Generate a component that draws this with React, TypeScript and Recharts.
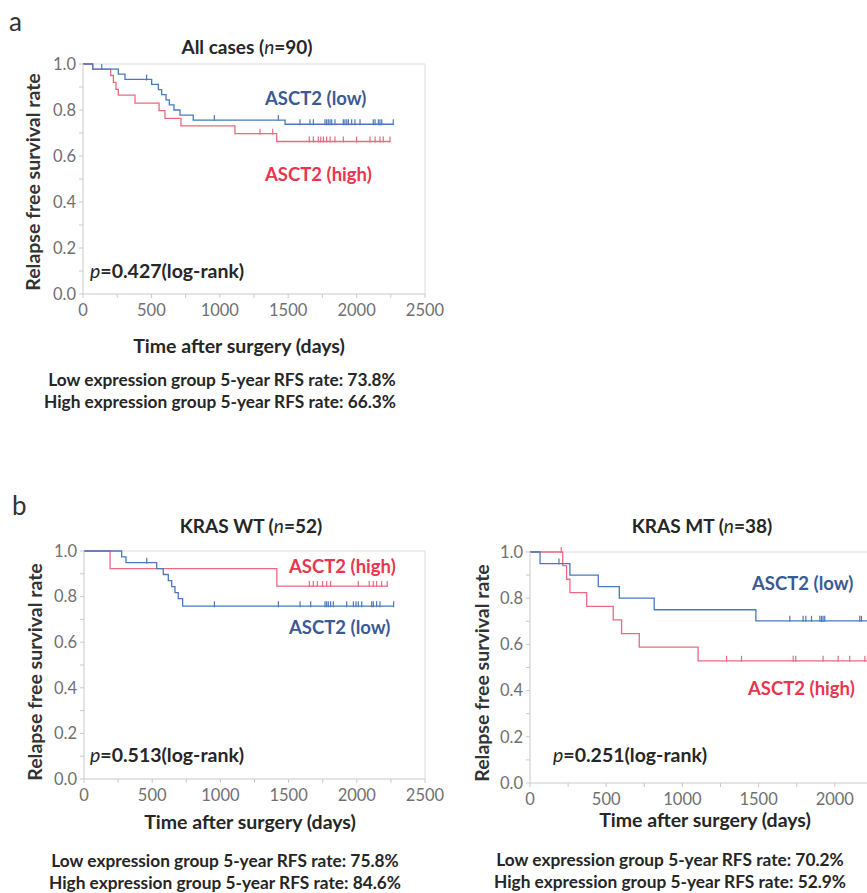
import React from "react";
import { ComposedChart, Line, Scatter, XAxis, YAxis, ReferenceLine } from "recharts";

// [day, survival] steps of each Kaplan-Meier curve, and censored days
const allLowSteps: [number, number][] = [
  [0, 1], [71, 0.978], [258, 0.956], [307, 0.933], [502, 0.911], [551, 0.889],
  [575, 0.867], [607, 0.844], [631, 0.822], [665, 0.8], [709, 0.778], [806, 0.756], [1477, 0.738],
];
const allLowCensored = [
  137, 465, 960, 1428, 1586, 1659, 1684, 1769, 1781, 1793, 1806, 1818, 1842, 1903, 1915,
  1928, 1940, 1964, 1988, 2025, 2122, 2135, 2159, 2171, 2184, 2268,
];
const allHighSteps: [number, number][] = [
  [0, 1], [71, 0.978], [202, 0.95], [222, 0.92], [241, 0.89], [258, 0.865], [380, 0.83],
  [556, 0.797], [599, 0.764], [716, 0.731], [1111, 0.697], [1416, 0.663],
];
const allHighCensored = [
  1294, 1387, 1654, 1684, 1720, 1738, 1757, 1781, 1806, 1842, 1903, 2000, 2098, 2135, 2171,
  2195, 2244,
];

const wtLowSteps: [number, number][] = [
  [0, 1], [276, 0.974], [308, 0.949], [533, 0.923], [581, 0.897], [618, 0.87], [643, 0.844],
  [667, 0.817], [691, 0.791], [723, 0.758],
];
const wtLowCensored = [
  460, 956, 1425, 1584, 1662, 1767, 1779, 1791, 1808, 1828, 1926, 1975, 1994, 2011, 2036,
  2109, 2121, 2145, 2170, 2270,
];
const wtHighSteps: [number, number][] = [[0, 1], [191, 0.923], [1414, 0.846]];
const wtHighCensored = [1652, 1681, 1711, 1749, 1779, 1808, 2011, 2091, 2121, 2145, 2182, 2223];

const mtLowSteps: [number, number][] = [
  [0, 1], [66, 0.95], [262, 0.9], [448, 0.85], [586, 0.8], [815, 0.75], [1482, 0.702],
];
const mtLowCensored = [190, 1705, 1792, 1810, 1847, 1902, 1913, 1923, 1934, 2164, 2175, 2270];
const mtHighSteps: [number, number][] = [
  [0, 1], [215, 0.941], [240, 0.882], [262, 0.824], [372, 0.765], [546, 0.706], [601, 0.647],
  [717, 0.588], [1103, 0.529],
];
const mtHighCensored = [205, 1290, 1388, 1727, 1744, 1923, 2022, 2098, 2197, 2270];

const xTicks = [0, 250, 500, 750, 1000, 1250, 1500, 1750, 2000, 2250, 2500];
const yTicks = [0, 0.1, 0.2, 0.3, 0.4, 0.5, 0.6, 0.7, 0.8, 0.9, 1.0];

const BLUE = "#4a78bd";
const RED = "#ea6a80";
const BLUE_TEXT = "#3a5a94";
const RED_TEXT = "#e8364f";
const AXIS = "#c9c9c9";
const FONT = "Lato, 'Open Sans', sans-serif";

const survivalAt = (steps: [number, number][], day: number) => {
  let s = steps[0][1];
  for (const [d, v] of steps) if (d <= day) s = v;
  return s;
};

const toLine = (steps: [number, number][], cens: number[]) => {
  const end = Math.max(steps[steps.length - 1][0], ...cens);
  return [...steps.map(([day, s]) => ({ day, s })), { day: end, s: steps[steps.length - 1][1] }];
};

const toTicks = (steps: [number, number][], cens: number[]) =>
  cens.map((day) => ({ day, s: survivalAt(steps, day) }));

const censorShape = (color: string) => (props: any) => (
  <line x1={props.cx} x2={props.cx} y1={props.cy - 5} y2={props.cy + 1} stroke={color} strokeWidth={1.2} />
);

type PanelProps = {
  left: number;
  top: number;
  width: number;
  height: number;
  margin: { top: number; right: number; bottom: number; left: number };
  low: [number, number][];
  lowCens: number[];
  high: [number, number][];
  highCens: number[];
  maxLabel?: number;
};

const KMPanel = ({ left, top, width, height, margin, low, lowCens, high, highCens, maxLabel = 2500 }: PanelProps) => (
  <div style={{ position: "absolute", left, top }}>
    <ComposedChart width={width} height={height} margin={margin}>
      <XAxis
        dataKey="day"
        type="number"
        domain={[0, 2500]}
        ticks={xTicks}
        tickFormatter={(v: number) => (v % 500 === 0 && v <= maxLabel ? String(v) : "")}
        stroke={AXIS}
        tickSize={4}
        tickMargin={6}
        height={30}
        tick={{ fill: "#707070", fontSize: 16.5, fontFamily: FONT }}
        allowDataOverflow
      />
      <YAxis
        dataKey="s"
        type="number"
        domain={[0, 1]}
        ticks={yTicks}
        tickFormatter={(v: number) => (Math.round(v * 10) % 2 === 0 ? v.toFixed(1) : "")}
        stroke={AXIS}
        tickSize={4}
        tickMargin={3}
        width={40}
        tick={{ fill: "#707070", fontSize: 16.5, fontFamily: FONT }}
      />
      <ReferenceLine y={1} stroke="#dcdcdc" />
      <ReferenceLine x={2500} stroke="#dcdcdc" />
      <Line data={toLine(high, highCens)} dataKey="s" type="stepAfter" stroke={RED} strokeWidth={1.3} dot={false} isAnimationActive={false} />
      <Scatter data={toTicks(high, highCens)} dataKey="s" shape={censorShape(RED)} isAnimationActive={false} />
      <Line data={toLine(low, lowCens)} dataKey="s" type="stepAfter" stroke={BLUE} strokeWidth={1.3} dot={false} isAnimationActive={false} />
      <Scatter data={toTicks(low, lowCens)} dataKey="s" shape={censorShape(BLUE)} isAnimationActive={false} />
    </ComposedChart>
  </div>
);

const Txt = ({ x, y, anchor = "start", size = 19.5, color = "#262626", weight = 700, rotate = false, children }: any) => {
  const tx = anchor === "middle" ? "-50%" : anchor === "end" ? "-100%" : "0";
  return (
    <div
      style={{
        position: "absolute",
        left: x,
        top: y,
        transform: rotate ? "translate(-50%, -50%) rotate(-90deg)" : `translate(${tx}, -50%)`,
        fontFamily: FONT,
        fontSize: size,
        fontWeight: weight,
        color,
        whiteSpace: "nowrap",
        lineHeight: 1,
      }}
    >
      {children}
    </div>
  );
};

const PValue = ({ x, y, value }: { x: number; y: number; value: string }) => (
  <Txt x={x} y={y}>
    <i style={{ fontWeight: 400 }}>p</i>={value}(log-rank)
  </Txt>
);

export default function App() {
  return (
    <div style={{ position: "fixed", left: 0, top: 0, width: 867, height: 893, overflow: "hidden", background: "#fff" }}>
      <KMPanel left={0} top={0} width={460} height={330} margin={{ top: 64, right: 35, bottom: 6, left: 43 }}
        low={allLowSteps} lowCens={allLowCensored} high={allHighSteps} highCens={allHighCensored} />
      <KMPanel left={0} top={487} width={460} height={330} margin={{ top: 64, right: 35, bottom: 8, left: 44 }}
        low={wtLowSteps} lowCens={wtLowCensored} high={wtHighSteps} highCens={wtHighCensored} />
      <KMPanel left={440} top={487} width={490} height={330} margin={{ top: 65, right: 19, bottom: 4, left: 50 }}
        low={mtLowSteps} lowCens={mtLowCensored} high={mtHighSteps} highCens={mtHighCensored} maxLabel={2000} />

      <Txt x={9} y={21} size={26} weight={400} color="#333">a</Txt>
      <Txt x={247} y={46} anchor="middle" size={19}>All cases (<i style={{ fontWeight: 400 }}>n</i>=90)</Txt>
      <Txt x={265} y={98} size={18.5} color={BLUE_TEXT}>ASCT2 (low)</Txt>
      <Txt x={265} y={174} size={18.5} color={RED_TEXT}>ASCT2 (high)</Txt>
      <PValue x={90} y={271} value="0.427" />
      <Txt x={33} y={182} rotate color="#333">Relapse free survival rate</Txt>
      <Txt x={239} y={346} anchor="middle">Time after surgery (days)</Txt>
      <Txt x={222} y={380} anchor="middle" size={17.3}>Low expression group 5-year RFS rate: 73.8%</Txt>
      <Txt x={220} y={402} anchor="middle" size={17.3}>High expression group 5-year RFS rate: 66.3%</Txt>

      <Txt x={12} y={505} size={26} weight={400} color="#333">b</Txt>
      <Txt x={251} y={525} anchor="middle" size={19}>KRAS WT (<i style={{ fontWeight: 400 }}>n</i>=52)</Txt>
      <Txt x={289} y={566} size={18.5} color={RED_TEXT}>ASCT2 (high)</Txt>
      <Txt x={289} y={627} size={18.5} color={BLUE_TEXT}>ASCT2 (low)</Txt>
      <PValue x={90} y={755} value="0.513" />
      <Txt x={35} y={672} rotate color="#333">Relapse free survival rate</Txt>
      <Txt x={250} y={822} anchor="middle">Time after surgery (days)</Txt>
      <Txt x={225} y={861} anchor="middle" size={17.3}>Low expression group 5-year RFS rate: 75.8%</Txt>
      <Txt x={225} y={883} anchor="middle" size={17.3}>High expression group 5-year RFS rate: 84.6%</Txt>

      <Txt x={702} y={525} anchor="middle" size={19}>KRAS MT (<i style={{ fontWeight: 400 }}>n</i>=38)</Txt>
      <Txt x={752} y={583} size={18.5} color={BLUE_TEXT}>ASCT2 (low)</Txt>
      <Txt x={748} y={688} size={18.5} color={RED_TEXT}>ASCT2 (high)</Txt>
      <PValue x={553} y={755} value="0.251" />
      <Txt x={482} y={673} rotate color="#333">Relapse free survival rate</Txt>
      <Txt x={705} y={820} anchor="middle">Time after surgery (days)</Txt>
      <Txt x={670} y={860} anchor="middle" size={17.3}>Low expression group 5-year RFS rate: 70.2%</Txt>
      <Txt x={670} y={882} anchor="middle" size={17.3}>High expression group 5-year RFS rate: 52.9%</Txt>
    </div>
  );
}
